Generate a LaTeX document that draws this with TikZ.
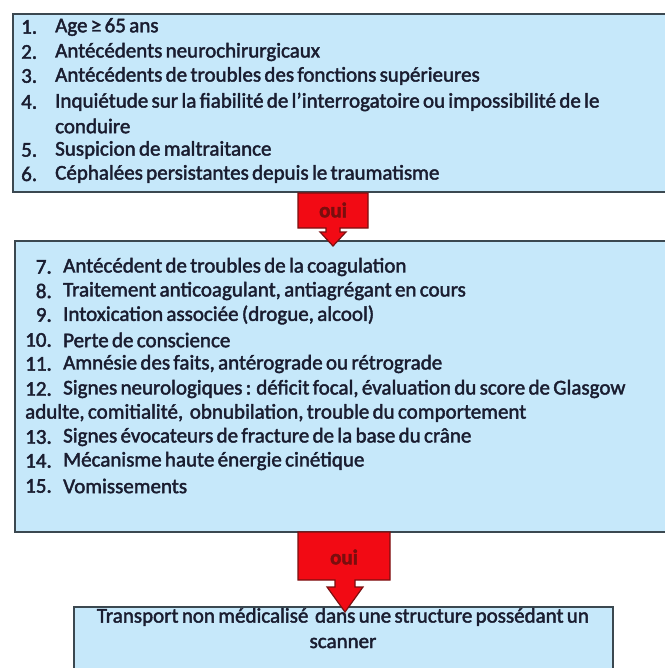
\documentclass[tikz,border=0pt]{standalone}
\usepackage{fontspec}
\setmainfont[FakeBold=2,WordSpace=0.7]{Carlito}
\definecolor{boxfill}{HTML}{C6E8FA}
\definecolor{boxline}{HTML}{3B4850}
\definecolor{txt}{HTML}{1A1D30}
\definecolor{arrred}{HTML}{F20A14}
\definecolor{arrline}{HTML}{7A1010}
\definecolor{ouicol}{HTML}{7A0E0E}
\begin{document}
\begin{tikzpicture}[x=1pt,y=-1pt,
  box/.style={draw=boxline,line width=1.8pt,fill=boxfill},
  tfont/.style={font=\fontsize{21}{23}\selectfont,text=txt},
  item/.style={anchor=west,inner sep=0pt,tfont},
  num/.style={anchor=east,inner sep=0pt,tfont},
  callout/.style={draw=arrline,line width=1.2pt,fill=arrred,line join=miter},
  oui/.style={inner sep=0pt,font=\fontsize{21}{23}\selectfont\bfseries,text=ouicol}]
\useasboundingbox (0,0) rectangle (664,668);
% boxes
\draw[box] (13,14) rectangle (680,192);
\draw[box] (15,241) rectangle (680,532);
\draw[box] (74,607) rectangle (613,690);
% box 1 items
\foreach \n/\y/\t in {1/27/{Age ≥ 65 ans},2/52/{Antécédents neurochirurgicaux},3/76/{Antécédents de troubles des fonctions supérieures},4/102/{Inquiétude sur la fiabilité de l’interrogatoire ou impossibilité de le},5/150/{Suspicion de maltraitance},6/174/{Céphalées persistantes depuis le traumatisme}}{
  \node[anchor=west,inner sep=0pt,tfont] (n\n) at (21,\y) {\n.};
  \node[item] (i\n) at (55,\y) {\t};
}
\node[item] (i4b) at (55,126) {conduire};
% box 2 items
\foreach \n/\y/\t in {7/267/{Antécédent de troubles de la coagulation},8/291/{Traitement anticoagulant, antiagrégant en cours},9/315/{Intoxication associée (drogue, alcool)},10/340/{Perte de conscience},11/364/{Amnésie des faits, antérograde ou rétrograde},12/389/{Signes neurologiques : déficit focal, évaluation du score de Glasgow},13/437/{Signes évocateurs de fracture de la base du crâne},14/461/{Mécanisme haute énergie cinétique},15/486/{Vomissements}}{
  \node[num] (n\n) at (52,\y) {\n.};
  \node[item] (i\n) at (63,\y) {\t};
}
\node[item] (i12b) at (25,413) {adulte, comitialité,\ \ obnubilation, trouble du comportement};
% box 3
\node[inner sep=0pt,tfont] (t1) at (343,617) {Transport non médicalisé\ \ dans une structure possédant un};
\node[inner sep=0pt,tfont] (t2) at (343,643) {scanner};
% callout arrows
\draw[callout] (298,193) -- (368,193) -- (368,228) -- (340,228) -- (340,232) -- (346,232) -- (333,246) -- (320,232) -- (326,232) -- (326,228) -- (298,228) -- cycle;
\node[oui] (o1) at (333,210) {oui};
\draw[callout] (298,532) -- (390,532) -- (390,580) -- (355,580) -- (355,587) -- (363,587) -- (345,612) -- (327,587) -- (335,587) -- (335,580) -- (298,580) -- cycle;
\node[oui] (o2) at (344,557) {oui};
\end{tikzpicture}
\end{document}
